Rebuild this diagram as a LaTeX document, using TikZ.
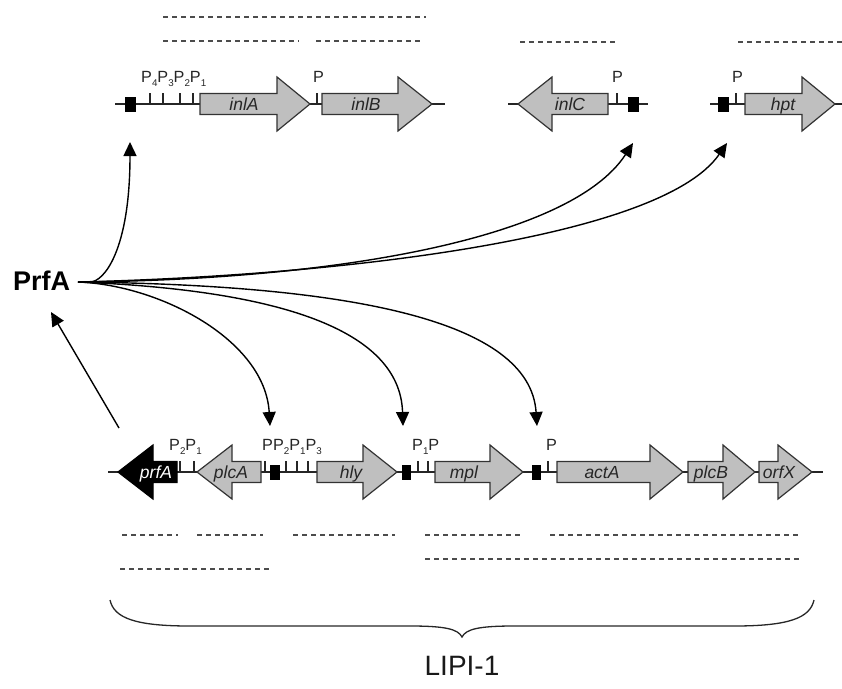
\documentclass[tikz,border=0pt]{standalone}
\usepackage{fontspec}
\setmainfont{Liberation Sans}
\usetikzlibrary{arrows.meta}
% gene arrows: body half-height 10.5, head half-height 27
\newcommand\GeneR[5][gene]{\draw[#1] (#2,#5-10.5) -- (#3,#5-10.5) -- (#3,#5-27) -- (#4,#5) -- (#3,#5+27) -- (#3,#5+10.5) -- (#2,#5+10.5) -- cycle;}
\newcommand\GeneL[5][gene]{\draw[#1] (#2,#5-10.5) -- (#3,#5-10.5) -- (#3,#5-27) -- (#4,#5) -- (#3,#5+27) -- (#3,#5+10.5) -- (#2,#5+10.5) -- cycle;}
\newcommand\Ptick[2]{\draw[ptick] (#1,#2) -- (#1,#2-11);}
\newcommand\Pbox[3]{\draw[boxsite] (#1,#3-7) rectangle (#2,#3+7);}
\newcommand\sbs[1]{\raisebox{-4.5pt}{\fontsize{9.8}{10}\selectfont #1}}
\begin{document}
\begin{tikzpicture}[x=1pt,y=-1pt,
  gene/.style={draw=black!80,fill=black!25,line width=1.2pt,line join=miter},
  genedark/.style={draw=black,fill=black,line width=1.2pt,line join=miter},
  dna/.style={line width=1.2pt,draw=black!85},
  boxsite/.style={draw=black,fill=black,line width=0.6pt},
  ptick/.style={line width=1.1pt,draw=black!85},
  plab/.style={font=\fontsize{16.2}{18}\selectfont,inner sep=0pt,anchor=base west,text=black!85},
  glab/.style={font=\fontsize{17.5}{19}\selectfont\itshape,inner sep=0pt,anchor=base,text=black!85},
  mapline/.style={line width=1.7pt,dash pattern=on 5pt off 4pt,draw=black!70},
  reg/.style={line width=1.4pt,draw=black,-{Triangle[length=14pt,width=13pt]}},
]
\useasboundingbox (0,0) rectangle (842,688);

% ---------- upper loci ----------
\draw[mapline] (163,17) -- (426,17);
\draw[mapline] (163,41) -- (299,41);
\draw[mapline] (316,41) -- (423,41);
\draw[mapline] (520,42) -- (615,42);
\draw[mapline] (738,42) -- (842,42);

% inlAB
\draw[dna] (115,104) -- (445,104);
\Pbox{125}{135}{104}
\Ptick{150}{104}\Ptick{163}{104}\Ptick{180}{104}\Ptick{193}{104}
\GeneR{200}{277}{310}{104}
\Ptick{317}{104}
\GeneR{322}{398}{432}{104}
\node[plab] (lpA) at (141,82) {P\sbs{4}P\sbs{3}P\sbs{2}P\sbs{1}};
\node[plab] (lpB) at (313,82) {P};
\node[glab] (ginlA) at (244,110) {inlA};
\node[glab] (ginlB) at (366,110) {inlB};

% inlC
\draw[dna] (508,104) -- (648,104);
\GeneL{608}{552}{518}{104}
\Ptick{617}{104}
\Pbox{628}{638}{104}
\node[plab] (lpC) at (612,82) {P};
\node[glab] (ginlC) at (570,110) {inlC};

% hpt
\draw[dna] (710,104) -- (842,104);
\Pbox{718}{728}{104}
\Ptick{736}{104}
\GeneR{745}{802}{835}{104}
\node[plab] (lpH) at (732,82) {P};
\node[glab] (ghpt) at (783,110) {hpt};

% ---------- LIPI-1 ----------
\draw[dna] (108,472) -- (823,472);
\GeneL[genedark]{177}{153}{118}{472}
\node[glab,text=white] (gprfA) at (156,478) {prfA};
\Ptick{180}{472}\Ptick{194}{472}
\node[plab] (lp1) at (169,450) {P\sbs{2}P\sbs{1}};
\GeneL{261}{232}{197}{472}
\node[glab] (gplcA) at (231,478) {plcA};
\Ptick{265}{472}
\Pbox{270}{279}{472}
\Ptick{286}{472}\Ptick{297}{472}\Ptick{308}{472}
\node[plab] (lp2) at (262,450) {PP\sbs{2}P\sbs{1}P\sbs{3}};
\GeneR{317}{363}{397}{472}
\node[glab] (ghly) at (351,478) {hly};
\Pbox{402}{410}{472}
\Ptick{418}{472}\Ptick{428}{472}
\node[plab] (lp3) at (412,450) {P\sbs{1}P};
\GeneR{435}{490}{523}{472}
\node[glab] (gmpl) at (464,478) {mpl};
\Pbox{532}{540}{472}
\Ptick{548}{472}
\node[plab] (lp4) at (546,450) {P};
\GeneR{557}{650}{683}{472}
\node[glab] (gactA) at (602,478) {actA};
\GeneR{688}{723}{755}{472}
\node[glab] (gplcB) at (711,478) {plcB};
\GeneR{759}{778}{812}{472}
\node[glab] (gorfX) at (779,478) {orfX};

\draw[mapline] (122,535) -- (178,535);
\draw[mapline] (197,535) -- (263,535);
\draw[mapline] (293,535) -- (395,535);
\draw[mapline] (425,535) -- (521,535);
\draw[mapline] (550,535) -- (798,535);
\draw[mapline] (425,559) -- (801,559);
\draw[mapline] (120,569) -- (270,569);

% brace and name of the island
\draw[line width=1.3pt,draw=black!85] (110,600) .. controls (114,618) and (135,626) .. (190,626)
  -- (410,626) .. controls (445,626) and (458,629) .. (462,637)
  .. controls (466,629) and (479,626) .. (514,626)
  -- (734,626) .. controls (789,626) and (810,618) .. (814,600);
\node[font=\fontsize{28}{30}\selectfont,inner sep=0pt,text=black!90] (lipi) at (462,666) {LIPI-1};

% ---------- PrfA regulation ----------
\node[font=\fontsize{27}{30}\selectfont\bfseries,inner sep=0pt,anchor=base west] (prfa) at (13,290) {PrfA};
\coordinate (hub) at (78,282);
\coordinate (tinlA) at (130,142);
\coordinate (tinlC) at (633,143);
\coordinate (thpt) at (727,143);
\coordinate (thly) at (270,426);
\coordinate (tmpl) at (403,426);
\coordinate (tactA) at (537,426);
\coordinate (fromprfA) at (119,428);
\coordinate (toprfA) at (51,312);

\draw[reg] (hub) -- (90,282) .. controls (104,282) and (130,250) .. (tinlA);
\draw[reg] (hub) .. controls (330,280) and (570,240) .. (tinlC);
\draw[reg] (hub) .. controls (330,276) and (660,240) .. (thpt);
\draw[reg] (hub) .. controls (160,285) and (265,340) .. (thly);
\draw[reg] (hub) .. controls (280,290) and (400,330) .. (tmpl);
\draw[reg] (hub) .. controls (350,285) and (530,320) .. (tactA);
\draw[reg] (fromprfA) -- (toprfA);
\end{tikzpicture}
\end{document}
